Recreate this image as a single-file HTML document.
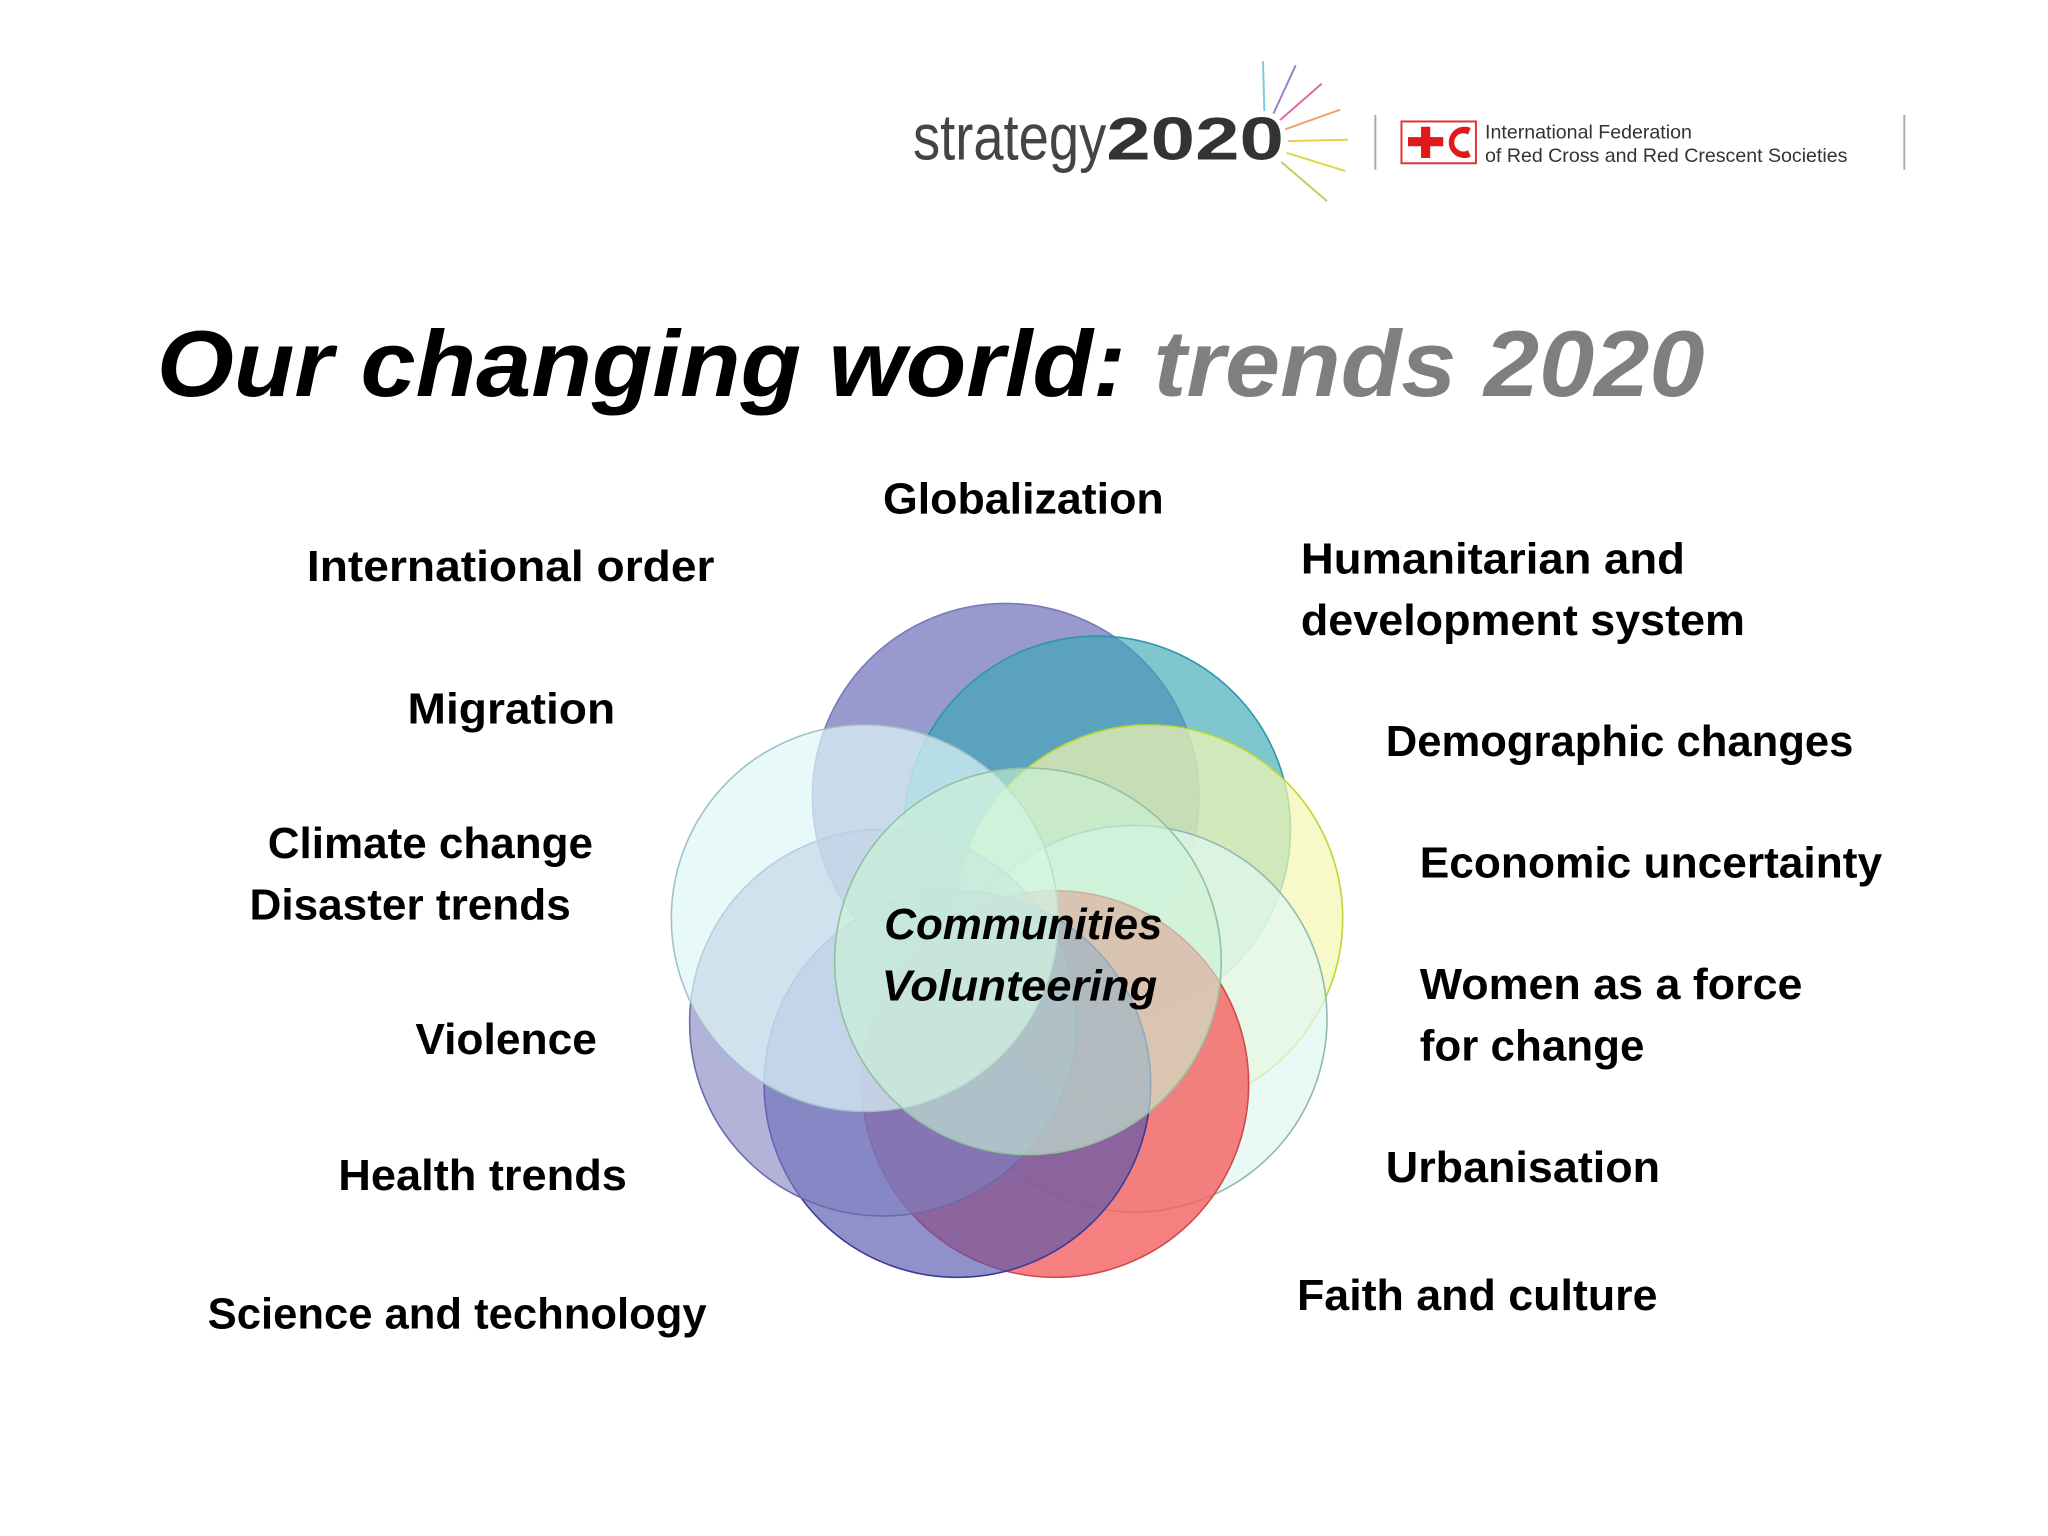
<!DOCTYPE html>
<html><head><meta charset="utf-8"><style>
html,body{margin:0;padding:0;background:#fff;width:2048px;height:1536px;overflow:hidden}
svg{display:block}
text{font-family:"Liberation Sans",sans-serif}
.lbl{font-size:33px;font-weight:bold;fill:#000}
</style></head><body>
<svg id="chart" width="2048" height="1536" viewBox="0 0 1568 1176" xmlns="http://www.w3.org/2000/svg">
<g>
<text x="699" y="122" font-size="50" fill="#444" textLength="148" lengthAdjust="spacingAndGlyphs">strategy</text>
<text x="847" y="122" font-size="46" font-weight="bold" fill="#333" textLength="136" lengthAdjust="spacingAndGlyphs">2020</text>
<g stroke-width="1.5">
<line x1="968" y1="85" x2="967" y2="47" stroke="#7ec8e3"/>
<line x1="975" y1="87" x2="992" y2="50" stroke="#9b7fc8"/>
<line x1="980" y1="92" x2="1012" y2="64" stroke="#e36a9b"/>
<line x1="984" y1="99" x2="1026" y2="84" stroke="#f0a070"/>
<line x1="986" y1="108" x2="1032" y2="107" stroke="#f3c94a"/>
<line x1="985" y1="117" x2="1030" y2="131" stroke="#d9d94a"/>
<line x1="981" y1="124" x2="1016" y2="154" stroke="#b8d060"/>
</g>
<line x1="1053" y1="88" x2="1053" y2="130" stroke="#aaa" stroke-width="1.5"/>
<rect x="1073" y="93" width="57" height="32" fill="none" stroke="#e03030" stroke-width="1.5"/>
<path d="M1078 105h10v-8h7v8h10v7h-10v9h-7v-9h-10z" fill="#e01a1a"/>
<path d="M1126 98a12 12 0 1 0 0 22l-2-5a7 7 0 1 1 0-12z" fill="#e01a1a"/>
<text x="1137" y="106" font-size="15" fill="#333">International Federation</text>
<text x="1137" y="124" font-size="15" fill="#333">of Red Cross and Red Crescent Societies</text>
<line x1="1458" y1="88" x2="1458" y2="130" stroke="#aaa" stroke-width="1.5"/>
</g>
<text x="120" y="303" font-size="72" font-weight="bold" font-style="italic" textLength="1185" lengthAdjust="spacingAndGlyphs"><tspan fill="#000">Our changing world: </tspan><tspan fill="#7f7f7f">trends 2020</tspan></text>
<g id="circles"></g>
<g id="labels"></g>
</svg>
<script>
const circleNames=["globalization-circle","humanitarian-circle","demographic-circle","economic-circle","women-circle","urbanisation-circle","faith-circle","violence-circle","climate-circle","center-circle"];
const circleCx=[770,840,880,868,808,733,676,662,787];
const circleCy=[610,635,703,780,830,830,783,703,736];
const circleFill=["#8d8ec8","#3aa7b5","#f3f6b0","#dff8f2","#f46060","#5556ad","#8181c2","#def7f8","#ccf3d6"];
const circleStroke=["#7a7ab8","#2a98a8","#b8d830","#90b8b0","#d04848","#3a3a98","#6a6aaa","#a0c0c8","#90c0a0"];
const circleOpacity=[0.9,0.65,0.7,0.7,0.8,0.65,0.6,0.7,0.6];
const R=148;
const cg=document.getElementById('circles');
const NS="http://www.w3.org/2000/svg";
for(let i=0;i<circleCx.length;i++){
 const c=document.createElementNS(NS,'circle');
 
 
 c.setAttribute('cx',circleCx[i]);c.setAttribute('cy',circleCy[i]);c.setAttribute('r',R);
 c.setAttribute('fill',circleFill[i]);c.setAttribute('fill-opacity',circleOpacity[i]);
 c.setAttribute('stroke',circleStroke[i]);c.setAttribute('stroke-width',1.2);
 cg.appendChild(c);
}
const labelText=["Globalization","International order","Humanitarian and","development system","Migration","Demographic changes","Climate change","Disaster trends","Economic uncertainty","Women as a force","for change","Violence","Health trends","Urbanisation","Science and technology","Faith and culture"];
const labelX=[676,235,996,996,312,1061,205,191,1087,1087,1087,318,259,1061,159,993];
const labelY=[393,445,439,486,554,579,657,704,672,765,812,807,911,905,1017,1003];
const labelW=[215,312,294,340,159,358,249,246,354,293,172,139,221,210,382,276];
const lg=document.getElementById('labels');
for(let i=0;i<labelText.length;i++){
 const t=document.createElementNS(NS,'text');
 
 
 t.setAttribute('class','lbl');
 t.setAttribute('x',labelX[i]);t.setAttribute('y',labelY[i]);
 t.setAttribute('textLength',labelW[i]);t.setAttribute('lengthAdjust','spacingAndGlyphs');
 t.textContent=labelText[i];
 lg.appendChild(t);
}
const centerText=["Communities","Volunteering"];
const centerY=[719,766];
for(let i=0;i<centerText.length;i++){
 const t=document.createElementNS(NS,'text');
 
 
 t.setAttribute('class','lbl');
 t.setAttribute('font-style','italic');
 t.setAttribute('x',i==0?677:675);t.setAttribute('y',centerY[i]);
 t.setAttribute('textLength',i==0?213:211);t.setAttribute('lengthAdjust','spacingAndGlyphs');
 t.textContent=centerText[i];
 lg.appendChild(t);
}
</script>
</body></html>
